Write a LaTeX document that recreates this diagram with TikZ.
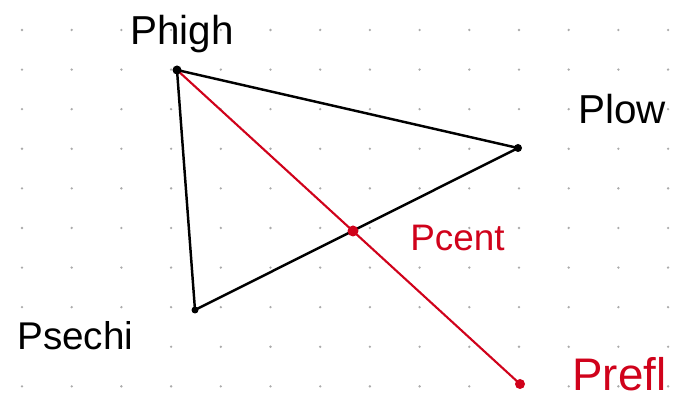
\documentclass[tikz,border=0pt]{standalone}
\usepackage{fontspec}
\setmainfont{Liberation Sans}
\usepackage{xcolor}
\usetikzlibrary{positioning}
\definecolor{penred}{HTML}{D0021B}
\definecolor{griddot}{HTML}{ABABAB}
\tikzset{
  side/.style={line width=1.4pt, black},
  refl line/.style={line width=1.2pt, penred},
  lbl/.style={anchor=base west, inner sep=0pt, font=\fontsize{23}{26}\selectfont},
}

\begin{document}
\begin{tikzpicture}[x=0.02cm, y=-0.02cm]
  \useasboundingbox[fill=white] (0,0) rectangle (677,401);
  % dotted paper
  \foreach \i in {0,...,13}
    \foreach \j in {0,...,9}
      \fill[griddot] (22+49.7*\i, 30+39.6*\j) circle (1.3);
  % vertices
  \coordinate (high) at (177,70);
  \coordinate (low) at (518,148);
  \coordinate (sec) at (195,310);
  \coordinate (cent) at (353,231);
  \coordinate (refl) at (520,384);
  % triangle
  \draw[side] (high) -- (low) -- (sec) -- cycle;
  % reflection through the centroid
  \draw[refl line] (high) -- (refl);
  \fill (high) circle (4.5);
  \fill (low) circle (4);
  \fill (sec) circle (3.5);
  \fill[penred] (cent) circle (5.5);
  \fill[penred] (refl) circle (5);
  % labels
  \node[lbl] (lhigh) at (130,45) {Phigh};
  \node[lbl] (llow) at (578,124) {Plow};
  \node[lbl, font=\fontsize{22}{26}\selectfont] (lsec) at (17,350) {Psechi};
  \node[lbl, text=penred, font=\fontsize{21}{26}\selectfont] (lcent) at (410,251) {Pcent};
  \node[lbl, text=penred, font=\fontsize{26}{30}\selectfont] (lrefl) at (572,391) {Prefl};
\end{tikzpicture}
\end{document}
